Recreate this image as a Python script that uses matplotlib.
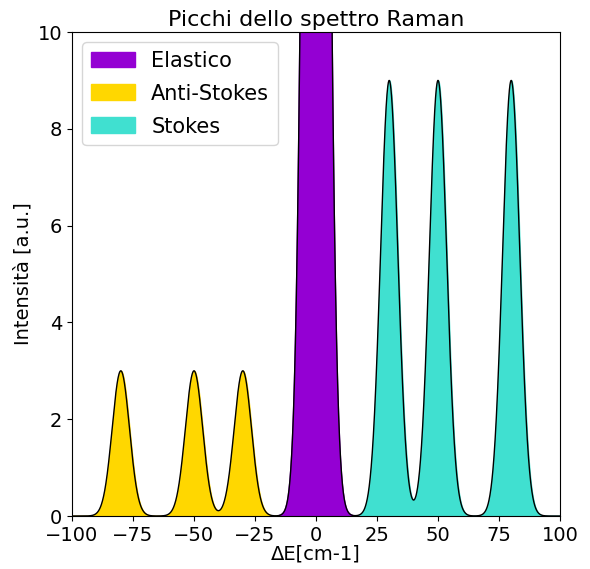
import numpy as np
import matplotlib
matplotlib.use("Agg")
import matplotlib.pyplot as plt
from matplotlib.patches import Patch

# Peak parameters
elastic_centers = [0]
elastic_heights = [50]
elastic_widths = [5.2]

anti_stokes_centers = [-80, -50, -30]
anti_stokes_heights = [3, 3, 3]
anti_stokes_widths = [5, 5, 5]

stokes_centers = [30, 50, 80]
stokes_heights = [9, 9, 9]
stokes_widths = [5, 5, 5]

legend_labels = ["Elastico", "Anti-Stokes", "Stokes"]
colors = ["darkviolet", "gold", "turquoise"]

x = np.linspace(-100, 100, 4001)


def peaks(centers, heights, widths):
    y = np.zeros_like(x)
    for c, h, w in zip(centers, heights, widths):
        y += h * np.exp(-((x - c) / w) ** 2)
    return y


total = (peaks(elastic_centers, elastic_heights, elastic_widths)
         + peaks(anti_stokes_centers, anti_stokes_heights, anti_stokes_widths)
         + peaks(stokes_centers, stokes_heights, stokes_widths))

fig = plt.figure(figsize=(5.9, 5.69), dpi=100)
ax = fig.add_axes([72 / 590, 1 - 516 / 569, (560 - 72) / 590, (516 - 32) / 569])

ax.fill_between(x, 0, total, where=(x >= -15) & (x <= 15), color=colors[0], interpolate=True)
ax.fill_between(x, 0, total, where=(x <= -15), color=colors[1], interpolate=True)
ax.fill_between(x, 0, total, where=(x >= 15), color=colors[2], interpolate=True)
ax.plot(x, total, color="black", lw=1)

ax.set_xlim(-100, 100)
ax.set_ylim(0, 10)
ax.set_xticks(np.arange(-100, 101, 25))
ax.set_yticks(np.arange(0, 11, 2))
ax.tick_params(labelsize=14)
ax.set_xlabel("ΔE[cm-1]", fontsize=14, labelpad=0)
ax.set_ylabel("Intensità [a.u.]", fontsize=14)
ax.set_title("Picchi dello spettro Raman", fontsize=16, pad=4)

handles = [Patch(color=c, label=l) for c, l in zip(colors, legend_labels)]
ax.legend(handles=handles, loc="upper left", fontsize=15, handleheight=0.8,
          handlelength=2.1, labelspacing=0.62, handletextpad=0.8)

fig.savefig("out.png", dpi=100)
